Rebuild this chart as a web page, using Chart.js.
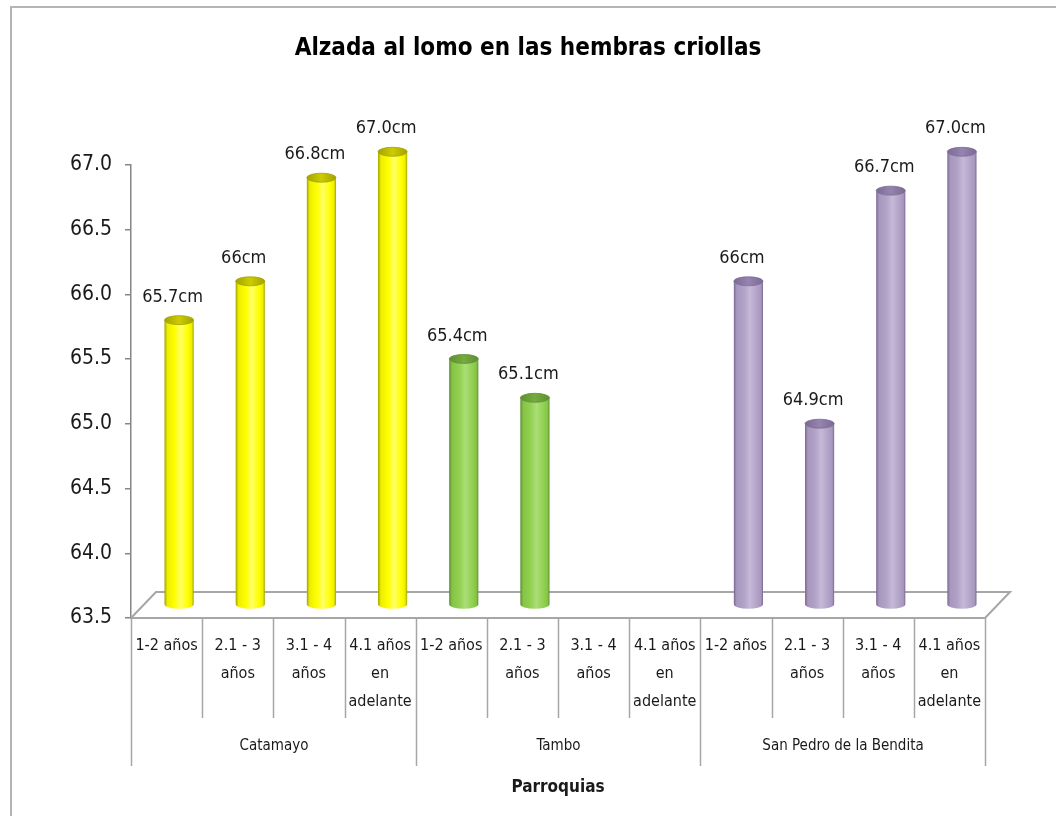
<!DOCTYPE html>
<html>
<head>
<meta charset="utf-8">
<script src="https://cdn.jsdelivr.net/npm/chart.js@4.4.1/dist/chart.umd.min.js"></script>
<style>
  html, body { margin: 0; padding: 0; background: #fff; }
  #wrap { width: 1056px; height: 816px; }
</style>
</head>
<body>
<div id="wrap"><canvas id="myChart" width="1056" height="816"></canvas></div>
<script>
// data
const ageGroups = [['1-2 años'], ['2.1 - 3', 'años'], ['3.1 - 4', 'años'], ['4.1 años', 'en', 'adelante']];
const parishes = ['Catamayo', 'Tambo', 'San Pedro de la Bendita'];
const catamayo = [65.7, 66, 66.8, 67.0];
const tambo = [65.4, 65.1, null, null];
const sanPedro = [66, 64.9, 66.7, 67.0];
const catamayoLabels = ['65.7cm', '66cm', '66.8cm', '67.0cm'];
const tamboLabels = ['65.4cm', '65.1cm', '', ''];
const sanPedroLabels = ['66cm', '64.9cm', '66.7cm', '67.0cm'];
const yMin = 63.5, yMax = 67.0, yStep = 0.5;

const FONT = "'Liberation Sans Narrow', 'DejaVu Sans Condensed', 'Liberation Sans', sans-serif";
Chart.defaults.font.family = FONT;

const labels = [].concat(ageGroups, ageGroups, ageGroups);
const values = [].concat(catamayo, tambo, sanPedro);
const valueLabels = [].concat(catamayoLabels, tamboLabels, sanPedroLabels);

// cylinder colours per parish: [dark edge, mid, main, light, cap]
const palette = [
    ['#a3a300', '#eeee00', '#ffff00', '#ffff66', '#cccc00'],
    ['#5e8f30', '#86c448', '#92d050', '#aade78', '#74ab40'],
    ['#7a6a94', '#a897be', '#b3a2c7', '#c6b9d7', '#9584af']
];

// 3D look: floor depth and bar shift
const depth = { dx: 25, dy: -26 };
const shift = { dx: 12.5, dy: -13 };

const threeD = {
    id: 'threeD',
    beforeDatasetsDraw(chart) {
        const { ctx, chartArea } = chart;
        const L = chartArea.left, R = chartArea.right, B = chartArea.bottom;
        ctx.save();
        ctx.strokeStyle = '#a6a6a6';
        ctx.lineWidth = 2;
        ctx.beginPath();
        ctx.moveTo(L, B);
        ctx.lineTo(L + depth.dx, B + depth.dy);
        ctx.lineTo(R + depth.dx, B + depth.dy);
        ctx.lineTo(R, B);
        ctx.stroke();
        ctx.restore();
    },
    afterDatasetsDraw(chart) {
        const { ctx } = chart;
        const meta = chart.getDatasetMeta(0);
        meta.data.forEach((el, i) => {
            if (values[i] == null) return;
            const p = el.getProps(['x', 'y', 'base', 'width'], true);
            const col = palette[Math.floor(i / 4)];
            const cx = p.x + shift.dx;
            const ty = p.y + shift.dy;
            const by = p.base + shift.dy;
            const r = p.width / 2;
            const ry = 4.5;

            ctx.save();
            const g = ctx.createLinearGradient(cx - r, 0, cx + r, 0);
            g.addColorStop(0, col[0]);
            g.addColorStop(0.1, col[1]);
            g.addColorStop(0.35, col[2]);
            g.addColorStop(0.55, col[3]);
            g.addColorStop(0.8, col[2]);
            g.addColorStop(0.93, col[1]);
            g.addColorStop(1, col[0]);
            ctx.beginPath();
            ctx.moveTo(cx - r, ty);
            ctx.lineTo(cx - r, by);
            ctx.ellipse(cx, by, r, ry, 0, Math.PI, 0, true);
            ctx.lineTo(cx + r, ty);
            ctx.ellipse(cx, ty, r, ry, 0, 0, Math.PI, false);
            ctx.closePath();
            ctx.fillStyle = g;
            ctx.fill();

            // top cap
            const gc = ctx.createLinearGradient(cx - r, 0, cx + r, 0);
            gc.addColorStop(0, col[0]);
            gc.addColorStop(0.5, col[4]);
            gc.addColorStop(1, col[0]);
            ctx.beginPath();
            ctx.ellipse(cx, ty, r, ry, 0, 0, Math.PI * 2);
            ctx.fillStyle = gc;
            ctx.fill();
            ctx.strokeStyle = col[0];
            ctx.lineWidth = 0.8;
            ctx.stroke();

            // value label
            ctx.fillStyle = '#1a1a1a';
            ctx.font = '18px ' + FONT;
            ctx.textAlign = 'center';
            ctx.textBaseline = 'middle';
            ctx.fillText(valueLabels[i], p.x + 6, ty - 23);
            ctx.restore();
        });
    },
    afterDraw(chart) {
        const { ctx, chartArea } = chart;
        const xs = chart.scales.x;
        const step = xs.getPixelForValue(1) - xs.getPixelForValue(0);
        const B = chartArea.bottom;
        ctx.save();
        ctx.strokeStyle = '#a6a6a6';
        ctx.lineWidth = 1.5;
        const bounds = [];
        for (let i = 0; i <= labels.length; i++) {
            const x = Math.round(xs.getPixelForValue(0) - step / 2 + i * step) + 0.5;
            bounds.push(x);
            ctx.beginPath();
            ctx.moveTo(x, B);
            ctx.lineTo(x, i % 4 === 0 ? B + 148 : B + 100);
            ctx.stroke();
        }
        ctx.fillStyle = '#1a1a1a';
        ctx.font = '15px ' + FONT;
        ctx.textAlign = 'center';
        ctx.textBaseline = 'middle';
        parishes.forEach((name, k) => {
            ctx.fillText(name, (bounds[k * 4] + bounds[k * 4 + 4]) / 2, B + 128);
        });

        // outer chart border
        ctx.strokeStyle = '#b4b4b4';
        ctx.lineWidth = 2;
        ctx.beginPath();
        ctx.moveTo(11, 816);
        ctx.lineTo(11, 7);
        ctx.lineTo(1056, 7);
        ctx.stroke();
        ctx.restore();
    }
};

new Chart(document.getElementById('myChart'), {
    type: 'bar',
    data: {
        labels: labels,
        datasets: [{
            data: values,
            base: yMin,
            backgroundColor: 'rgba(0,0,0,0)',
            borderWidth: 0,
            barPercentage: 0.41,
            categoryPercentage: 1.0
        }]
    },
    options: {
        responsive: false,
        animation: false,
        events: [],
        layout: { padding: 0 },
        plugins: {
            legend: { display: false },
            tooltip: { enabled: false },
            title: {
                display: true,
                text: 'Alzada al lomo en las hembras criollas',
                color: '#000',
                font: { size: 24, weight: 'bold', family: FONT, lineHeight: 1.2 },
                padding: { top: 34, bottom: 102 }
            }
        },
        scales: {
            x: {
                grid: { display: false },
                border: { display: true, color: '#a6a6a6', width: 2 },
                ticks: {
                    autoSkip: false,
                    maxRotation: 0,
                    padding: 6,
                    color: '#1a1a1a',
                    font: { size: 16, lineHeight: 1.75 }
                },
                title: {
                    display: true,
                    text: 'Parroquias',
                    color: '#1a1a1a',
                    font: { size: 17, weight: 'bold' },
                    padding: { top: 18, bottom: 18 }
                },
                afterFit(scale) { scale.height = 198; }
            },
            y: {
                min: yMin,
                max: yMax,
                grid: { drawOnChartArea: false, drawTicks: true, tickLength: 6, color: '#868686', lineWidth: 1.5 },
                border: { display: true, color: '#868686', width: 1.5 },
                ticks: {
                    stepSize: yStep,
                    padding: 13,
                    color: '#1a1a1a',
                    font: { size: 21 },
                    callback: v => v.toFixed(1)
                },
                afterFit(scale) { scale.width = 131; }
            },
            yRight: {
                position: 'right',
                display: true,
                grid: { display: false },
                border: { display: false },
                ticks: { display: false },
                afterFit(scale) { scale.width = 71; }
            }
        }
    },
    plugins: [threeD]
});
</script>
</body>
</html>
